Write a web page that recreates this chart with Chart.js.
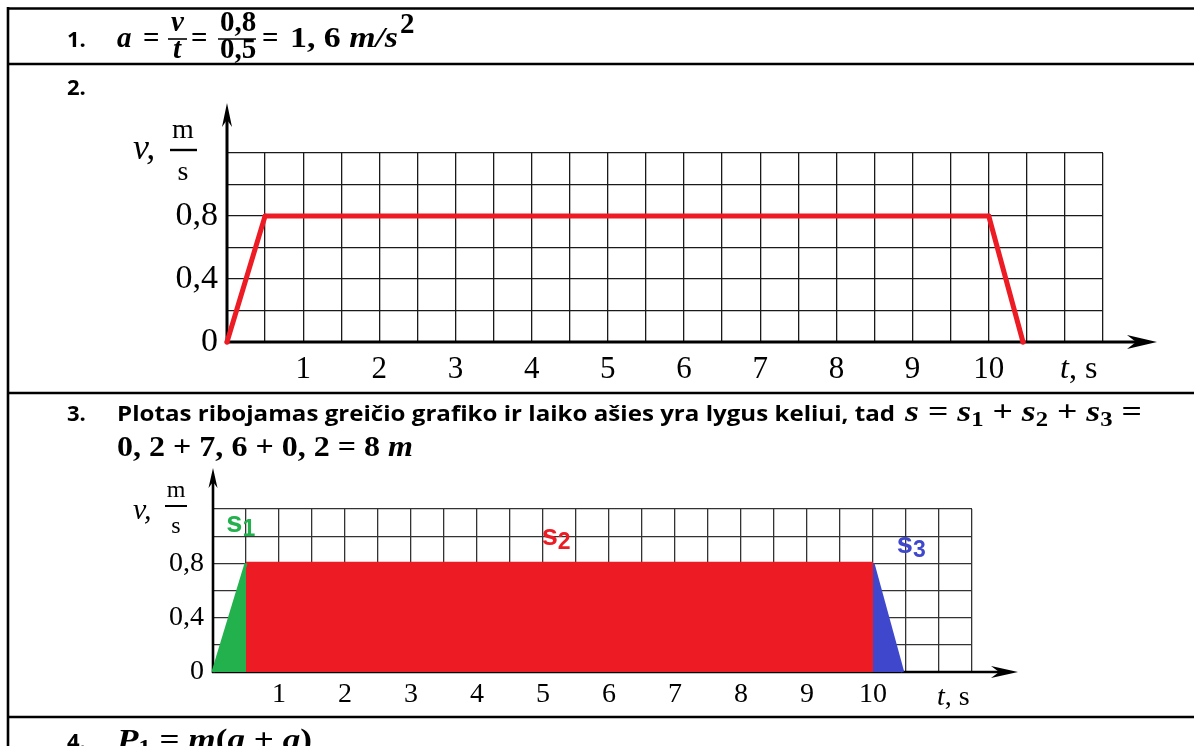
<!DOCTYPE html>
<html>
<head>
<meta charset="utf-8">
<script src="https://cdn.jsdelivr.net/npm/chart.js@4.4.0/dist/chart.umd.min.js"></script>
<style>
html, body { margin: 0; padding: 0; background: #fff; width: 1194px; height: 746px; overflow: hidden; }
#graph1 { position: absolute; left: 0; top: 70px; }
#graph2 { position: absolute; left: 0; top: 460px; }
svg { position: absolute; left: 0; top: 0; }
.t { font-family: 'Open Sans'; font-weight: 700; font-size: 22px; }
.m { font-family: 'Liberation Serif'; font-weight: 700; font-size: 29px; }
.u { font-family: 'Liberation Serif'; }
</style>
</head>
<body>
<canvas id="graph1" width="1194" height="323"></canvas>
<canvas id="graph2" width="1194" height="257"></canvas>
<svg width="1194" height="746">
  <g stroke="#000" stroke-width="2.6">
    <line x1="8" y1="7" x2="8" y2="746"/>
    <line x1="7" y1="8.5" x2="1194" y2="8.5"/>
    <line x1="7" y1="64" x2="1194" y2="64"/>
    <line x1="7" y1="393" x2="1194" y2="393"/>
    <line x1="7" y1="717" x2="1194" y2="717"/>
  </g>
  <!-- 1 -->
  <text class="t" x="67" y="47">1.</text>
  <text class="m" x="117" y="47" font-style="italic">a</text>
  <text class="m" x="143" y="47">=</text>
  <text class="m" x="171" y="31" font-size="19" font-style="italic">v</text>
  <line x1="168" y1="39" x2="187" y2="39" stroke="#000" stroke-width="1.6"/>
  <text class="m" x="173" y="58" font-size="19" font-style="italic">t</text>
  <text class="m" x="191" y="47">=</text>
  <text class="m" x="220" y="31" font-size="19">0,8</text>
  <line x1="218" y1="39" x2="256" y2="39" stroke="#000" stroke-width="1.6"/>
  <text class="m" x="220" y="58" font-size="19">0,5</text>
  <text class="m" x="262" y="47">=</text>
  <text class="m" x="290" y="47" textLength="108" lengthAdjust="spacingAndGlyphs">1, 6 <tspan font-style="italic">m/s</tspan></text>
  <text class="m" x="400" y="33" font-size="19">2</text>
  <!-- 2 -->
  <text class="t" x="67" y="95">2.</text>
  <!-- 3 -->
  <text class="t" x="67" y="421">3.</text>
  <text class="t" x="117" y="421" textLength="778" lengthAdjust="spacingAndGlyphs">Plotas ribojamas greičio grafiko ir laiko ašies yra lygus keliui, tad</text>
  <text class="m" x="905" y="421" textLength="237" lengthAdjust="spacingAndGlyphs"><tspan font-style="italic">s</tspan> = <tspan font-style="italic">s</tspan><tspan font-size="20" dy="5">1</tspan><tspan dy="-5"> + </tspan><tspan font-style="italic">s</tspan><tspan font-size="20" dy="5">2</tspan><tspan dy="-5"> + </tspan><tspan font-style="italic">s</tspan><tspan font-size="20" dy="5">3</tspan><tspan dy="-5"> =</tspan></text>
  <text class="m" x="117" y="456" textLength="296" lengthAdjust="spacingAndGlyphs">0, 2 + 7, 6 + 0, 2 = 8 <tspan font-style="italic">m</tspan></text>
  <!-- 4 -->
  <text class="t" x="67" y="749">4.</text>
  <text class="m" x="117" y="749" textLength="195" lengthAdjust="spacingAndGlyphs"><tspan font-style="italic">P</tspan><tspan font-size="20" dy="5">1</tspan><tspan dy="-5"> = </tspan><tspan font-style="italic">m</tspan>(<tspan font-style="italic">g</tspan> + <tspan font-style="italic">a</tspan>)</text>
  <!-- axis names, graph 1 -->
  <text class="u" x="133" y="159" font-size="36" font-style="italic">v,</text>
  <text class="u" x="183" y="138" font-size="28" text-anchor="middle">m</text>
  <line x1="170" y1="150" x2="197" y2="150" stroke="#000" stroke-width="2.4"/>
  <text class="u" x="183" y="180" font-size="28" text-anchor="middle">s</text>
  <text class="u" x="1060" y="378" font-size="32"><tspan font-style="italic">t</tspan>, s</text>
  <!-- axis names, graph 2 -->
  <text class="u" x="133" y="519" font-size="30" font-style="italic">v,</text>
  <text class="u" x="176" y="497" font-size="24" text-anchor="middle">m</text>
  <line x1="165" y1="506" x2="187" y2="506" stroke="#000" stroke-width="2"/>
  <text class="u" x="176" y="533" font-size="24" text-anchor="middle">s</text>
  <text class="u" x="937" y="705" font-size="28"><tspan font-style="italic">t</tspan>, s</text>
</svg>
<script>
// graph 1: v(t)
const timeSec = [0, 0.5, 10, 10.45];
const speedMs = [0, 0.8, 0.8, 0];

// graph 2: areas under the graph
const s1Time = [0, 0.5];
const s1Speed = [0, 0.8];
const s2Time = [0.5, 10];
const s2Speed = [0.8, 0.8];
const s3Time = [10, 10.45];
const s3Speed = [0.8, 0];
const areaNames = ['s', 's', 's'];
const areaIndex = ['1', '2', '3'];
const areaColors = ['#22b14c', '#ed1c24', '#3f48cc'];

// tick labels
const xTickVals = [1, 2, 3, 4, 5, 6, 7, 8, 9, 10];
const xTickLabels = ['1', '2', '3', '4', '5', '6', '7', '8', '9', '10'];
const yTickVals = [0, 0.4, 0.8];
const yTickLabels = ['0', '0,4', '0,8'];

function pts(xs, ys) {
  return xs.map(function (x, i) { return { x: x, y: ys[i] }; });
}

function labelFor(vals, labels, v) {
  for (let i = 0; i < vals.length; i++) {
    if (Math.abs(vals[i] - v) < 1e-6) return labels[i];
  }
  return '';
}

// axes with arrow heads
const axesArrows = {
  id: 'axesArrows',
  beforeDatasetsDraw(chart, args, o) {
    const ctx = chart.ctx;
    const x = chart.scales.x, y = chart.scales.y;
    const x0 = x.getPixelForValue(0), y0 = y.getPixelForValue(0);
    const yTop = chart.chartArea.top - o.yOver;
    const xEnd = chart.chartArea.right + o.xOver;
    ctx.save();
    ctx.strokeStyle = '#000';
    ctx.fillStyle = '#000';
    ctx.lineWidth = o.width;
    ctx.beginPath();
    ctx.moveTo(x0, y0 + 1);
    ctx.lineTo(x0, yTop + o.yLen * 0.6);
    ctx.moveTo(x0 - 1, y0);
    ctx.lineTo(xEnd - o.xLen * 0.6, y0);
    ctx.stroke();
    // y arrow
    ctx.beginPath();
    ctx.moveTo(x0, yTop);
    ctx.lineTo(x0 + o.yHw, yTop + o.yLen);
    ctx.lineTo(x0, yTop + o.yLen * 0.7);
    ctx.lineTo(x0 - o.yHw, yTop + o.yLen);
    ctx.closePath();
    ctx.fill();
    // x arrow
    ctx.beginPath();
    ctx.moveTo(xEnd, y0);
    ctx.lineTo(xEnd - o.xLen, y0 - o.xHw);
    ctx.lineTo(xEnd - o.xLen * 0.7, y0);
    ctx.lineTo(xEnd - o.xLen, y0 + o.xHw);
    ctx.closePath();
    ctx.fill();
    ctx.restore();
  }
};

// s1, s2, s3 names
const areaLabels = {
  id: 'areaLabels',
  afterDatasetsDraw(chart, args, o) {
    if (!o.at) return;
    const ctx = chart.ctx;
    const x = chart.scales.x, y = chart.scales.y;
    ctx.save();
    ctx.textBaseline = 'alphabetic';
    for (let i = 0; i < areaNames.length; i++) {
      const cx = x.getPixelForValue(o.at[i][0]);
      const cy = y.getPixelForValue(o.at[i][1]);
      ctx.font = 'bold 29px "Liberation Sans"';
      const w1 = ctx.measureText(areaNames[i]).width;
      ctx.font = 'bold 23px "Liberation Sans"';
      const w2 = ctx.measureText(areaIndex[i]).width;
      const left = cx - (w1 + w2) / 2;
      ctx.fillStyle = areaColors[i];
      ctx.font = 'bold 29px "Liberation Sans"';
      ctx.fillText(areaNames[i], left, cy + 7);
      ctx.font = 'bold 23px "Liberation Sans"';
      ctx.fillText(areaIndex[i], left + w1, cy + 11);
    }
    ctx.restore();
  }
};

function gridScales(cfg) {
  return {
    x: {
      type: 'linear', min: 0, max: 11.5,
      grid: { color: cfg.grid, lineWidth: 1.3, drawTicks: false },
      border: { display: false },
      ticks: {
        stepSize: 0.5, autoSkip: false, maxRotation: 0, padding: cfg.xPad,
        color: '#000', font: { family: 'Liberation Serif', size: cfg.xFont },
        callback: function (v) { return labelFor(xTickVals, xTickLabels, v); }
      },
      afterFit: function (s) { s.height = cfg.xHeight; }
    },
    y: {
      type: 'linear', min: 0, max: 1.2,
      grid: { color: cfg.grid, lineWidth: 1.3, drawTicks: false },
      border: { display: false },
      ticks: {
        stepSize: 0.2, autoSkip: false, padding: cfg.yPad,
        color: '#000', font: { family: 'Liberation Serif', size: cfg.yFont },
        callback: function (v) { return labelFor(yTickVals, yTickLabels, v); }
      },
      afterFit: function (s) { s.width = cfg.yWidth; }
    }
  };
}

new Chart(document.getElementById('graph1').getContext('2d'), {
  type: 'line',
  data: {
    datasets: [{
      data: pts(timeSec, speedMs),
      borderColor: '#ed1c24',
      backgroundColor: '#ed1c24',
      borderWidth: 5,
      borderCapStyle: 'round',
      borderJoinStyle: 'round',
      pointRadius: 2.5,
      pointBorderWidth: 0,
      fill: false,
      tension: 0
    }]
  },
  options: {
    responsive: false,
    animation: false,
    events: [],
    clip: false,
    layout: { padding: { left: 0, right: 91, top: 83, bottom: 0 } },
    scales: gridScales({ grid: '#1a1a1a', xPad: 9, xFont: 31, xHeight: 51, yPad: 9, yFont: 34, yWidth: 227 }),
    plugins: {
      legend: { display: false },
      tooltip: { enabled: false },
      axesArrows: { width: 3, yOver: 50, yLen: 24, yHw: 5, xOver: 54, xLen: 30, xHw: 7 }
    }
  },
  plugins: [axesArrows]
});

new Chart(document.getElementById('graph2').getContext('2d'), {
  type: 'line',
  data: {
    datasets: [s1Time, s2Time, s3Time].map(function (ts, i) {
      return {
        data: pts(ts, [s1Speed, s2Speed, s3Speed][i]),
        borderColor: areaColors[i],
        backgroundColor: areaColors[i],
        borderWidth: 3,
        borderJoinStyle: 'round',
        pointRadius: 0,
        fill: 'origin',
        tension: 0
      };
    })
  },
  options: {
    responsive: false,
    animation: false,
    events: [],
    clip: false,
    layout: { padding: { left: 0, right: 222, top: 49, bottom: 0 } },
    scales: gridScales({ grid: '#333', xPad: 6, xFont: 28, xHeight: 45, yPad: 9, yFont: 28, yWidth: 213 }),
    plugins: {
      legend: { display: false },
      tooltip: { enabled: false },
      axesArrows: { width: 2.6, yOver: 41, yLen: 20, yHw: 4.5, xOver: 46, xLen: 27, xHw: 6 },
      areaLabels: { at: [[0.42, 1.08], [5.2, 0.99], [10.58, 0.93]] }
    }
  },
  plugins: [axesArrows, areaLabels]
});
</script>
</body>
</html>
